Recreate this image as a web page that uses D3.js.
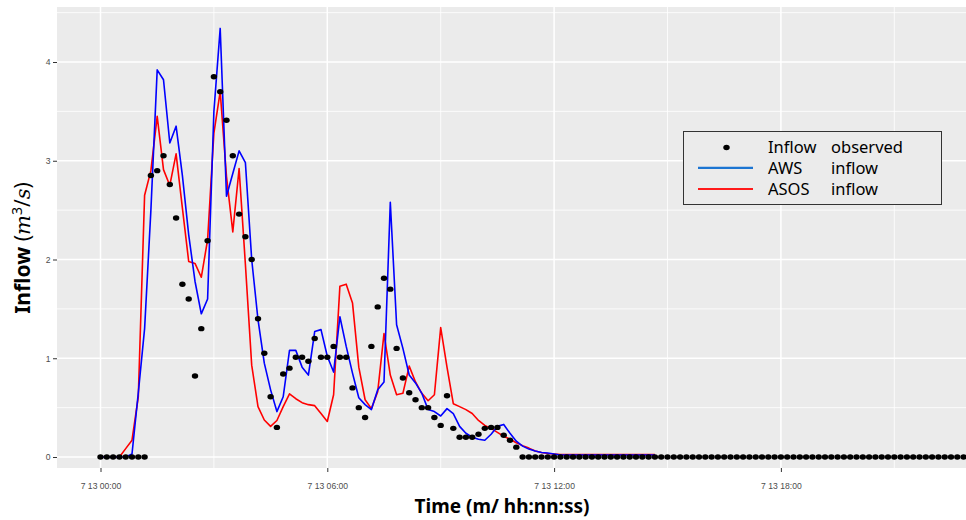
<!DOCTYPE html>
<html><head><meta charset="utf-8">
<script src="https://cdn.jsdelivr.net/npm/d3@7"></script>
<style>body{margin:0;background:#fff}svg{display:block}</style>
</head><body>
<svg id="chart" width="966" height="520"></svg>
<script>
// ---- data ----
const startTime = new Date(2000, 6, 13, 0, 0);
const stepMinutes = 10;
const xTickHours = [0, 6, 12, 18];
const xMinorHours = [3, 9, 15, 21];
const yTicks = [0, 1, 2, 3, 4];
const yMinorTicks = [0.5, 1.5, 2.5, 3.5, 4.5];

const observed = [
0,0,0,0,0,0,0,0,2.85,2.90,
3.05,2.76,2.42,1.75,1.60,0.82,1.30,2.19,3.85,3.70,
3.41,3.05,2.46,2.23,2.00,1.40,1.05,0.61,0.30,0.84,
0.90,1.01,1.01,0.97,1.20,1.01,1.01,1.12,1.01,1.01,
0.70,0.50,0.40,1.12,1.52,1.81,1.70,1.10,0.80,0.65,
0.58,0.50,0.50,0.40,0.32,0.62,0.29,0.20,0.20,0.20,
0.23,0.29,0.30,0.30,0.22,0.17,0.10,0,0,0,
0,0,0,0,0,0,0,0,0,0,
0,0,0,0,0,0,0,0,0,0,
0,0,0,0,0,0,0,0,0,0,
0,0,0,0,0,0,0,0,0,0,
0,0,0,0,0,0,0,0,0,0,
0,0,0,0,0,0,0,0,0,0,
0,0,0,0,0,0,0,0,0,0,
0,0,0,0
];

const awsInflow = [
0,0,0,0,0,0.03,0.65,1.30,2.50,3.92,
3.82,3.18,3.35,2.85,2.25,1.78,1.45,1.60,3.50,4.34,
2.64,2.87,3.10,2.98,2.00,1.39,0.95,0.68,0.46,0.61,
1.08,1.08,0.91,0.83,1.27,1.29,1.02,0.86,1.42,1.12,
0.85,0.60,0.53,0.48,0.68,0.76,2.58,1.34,1.10,0.83,
0.75,0.645,0.48,0.46,0.415,0.49,0.44,0.31,0.24,0.20,
0.18,0.17,0.23,0.31,0.33,0.24,0.16,0.11,0.08,0.06,
0.045,0.04,0.03,0.02,0.02,0.02,0.02,0.02,0.02,0.02,
0.02,0.02,0.02,0.02,0.02,0.02,0.02,0.02,0.02
];

const asosInflow = [
0,0,0,0,0.085,0.17,0.61,2.65,2.90,3.45,
2.91,2.75,3.07,2.52,1.98,1.96,1.82,2.20,3.28,3.70,
2.84,2.28,2.92,1.95,0.93,0.51,0.375,0.31,0.37,0.51,
0.64,0.59,0.55,0.53,0.52,0.44,0.36,0.63,1.73,1.75,
1.56,0.91,0.58,0.49,0.66,1.25,0.83,0.63,0.645,0.92,
0.76,0.645,0.57,0.63,1.31,0.91,0.54,0.51,0.48,0.44,
0.37,0.32,0.29,0.25,0.21,0.18,0.145,0.115,0.09,0.06,
0.045,0.035,0.03,0.025,0.025,0.025,0.025,0.025,0.025,0.025,
0.025,0.025,0.025,0.025,0.025,0.025,0.025,0.025,0.025
];

const legendItems = [
  {first: "Inflow", second: "observed", kind: "point"},
  {first: "AWS", second: "inflow", kind: "line", color: "#1C75D2"},
  {first: "ASOS", second: "inflow", kind: "line", color: "#FF1A1A"}
];

// ---- layout ----
const panel = {left: 57, top: 7, right: 966, bottom: 468};
const svg = d3.select("#chart");
const timeAt = i => d3.timeMinute.offset(startTime, i * stepMinutes);
const hourAt = h => d3.timeHour.offset(startTime, h);

const x = d3.scaleTime()
  .domain([startTime, d3.timeHour.offset(startTime, 24)])
  .range([100.5, 1007.7]);
const y = d3.scaleLinear().domain([0, 4]).range([457, 62]);

svg.append("defs").append("clipPath").attr("id", "clip")
  .append("rect").attr("x", panel.left).attr("y", panel.top)
  .attr("width", panel.right - panel.left).attr("height", panel.bottom - panel.top);

svg.append("rect").attr("x", panel.left).attr("y", panel.top)
  .attr("width", panel.right - panel.left).attr("height", panel.bottom - panel.top)
  .attr("fill", "#EBEBEB");

const grid = svg.append("g").attr("clip-path", "url(#clip)");
grid.selectAll(".ymin").data(yMinorTicks).join("line")
  .attr("x1", panel.left).attr("x2", panel.right)
  .attr("y1", d => y(d)).attr("y2", d => y(d))
  .attr("stroke", "#fff").attr("stroke-width", 0.8);
grid.selectAll(".xmin").data(xMinorHours).join("line")
  .attr("y1", panel.top).attr("y2", panel.bottom)
  .attr("x1", d => x(hourAt(d))).attr("x2", d => x(hourAt(d)))
  .attr("stroke", "#fff").attr("stroke-width", 0.8);
grid.selectAll(".ymaj").data(yTicks).join("line")
  .attr("x1", panel.left).attr("x2", panel.right)
  .attr("y1", d => y(d)).attr("y2", d => y(d))
  .attr("stroke", "#fff").attr("stroke-width", 1.5);
grid.selectAll(".xmaj").data(xTickHours).join("line")
  .attr("y1", panel.top).attr("y2", panel.bottom)
  .attr("x1", d => x(hourAt(d))).attr("x2", d => x(hourAt(d)))
  .attr("stroke", "#fff").attr("stroke-width", 1.5);

const marks = svg.append("g").attr("clip-path", "url(#clip)");
const line = d3.line().x((d, i) => x(timeAt(i))).y(d => y(d));
marks.append("path").datum(asosInflow).attr("d", line)
  .attr("fill", "none").attr("stroke", "#FF0000").attr("stroke-width", 1.6).attr("stroke-linejoin", "round");
marks.append("path").datum(awsInflow).attr("d", line)
  .attr("fill", "none").attr("stroke", "#0000FF").attr("stroke-width", 1.6).attr("stroke-linejoin", "round");
marks.selectAll("ellipse").data(observed).join("ellipse")
  .attr("cx", (d, i) => x(timeAt(i))).attr("cy", d => y(d))
  .attr("rx", 3.2).attr("ry", 2.7).attr("fill", "#000");

// ---- axes ----
const xAxis = d3.axisBottom(x)
  .tickValues(xTickHours.map(hourAt))
  .tickFormat(d3.timeFormat("%-m %d %H:%M"))
  .tickSize(4).tickPadding(11);
const gx = svg.append("g").attr("transform", `translate(0,${panel.bottom})`).call(xAxis);
gx.select(".domain").remove();
gx.selectAll("line").attr("stroke", "#333");
gx.selectAll("text").attr("fill", "#4D4D4D").attr("font-size", 8.6)
  .attr("font-family", "Liberation Sans, Arial, sans-serif");

const yAxis = d3.axisLeft(y).tickValues(yTicks).tickFormat(d3.format("d"))
  .tickSize(4).tickPadding(2.5);
const gy = svg.append("g").attr("transform", `translate(${panel.left},0)`).call(yAxis);
gy.select(".domain").remove();
gy.selectAll("line").attr("stroke", "#333");
gy.selectAll("text").attr("fill", "#4D4D4D").attr("font-size", 8.6)
  .attr("font-family", "Liberation Sans, Arial, sans-serif");

// ---- titles ----
svg.append("text").attr("x", 502).attr("y", 513).attr("text-anchor", "middle")
  .attr("font-family", "Noto Sans, sans-serif").attr("font-weight", "bold")
  .attr("font-size", 19).attr("fill", "#000").text("Time (m/ hh:nn:ss)");

const yt = svg.append("text").attr("transform", "translate(30,248) rotate(-90)")
  .attr("text-anchor", "middle").attr("font-family", "Noto Sans, sans-serif")
  .attr("font-size", 21).attr("fill", "#000");
yt.append("tspan").attr("font-weight", "bold").text("Inflow ");
yt.append("tspan").text("(");
yt.append("tspan").attr("font-style", "italic").attr("font-family", "DejaVu Serif, serif").text("m");
yt.append("tspan").attr("font-size", 14).attr("dy", -8).text("3");
yt.append("tspan").attr("dy", 8).text("/");
yt.append("tspan").attr("font-style", "italic").attr("font-family", "DejaVu Serif, serif").text("s");
yt.append("tspan").text(")");

// ---- legend ----
const lg = svg.append("g");
lg.append("rect").attr("x", 683.5).attr("y", 131.5).attr("width", 258).attr("height", 73)
  .attr("fill", "#EBEBEB").attr("stroke", "#333").attr("stroke-width", 1);
const rowY = [146.5, 167.8, 189];
legendItems.forEach((it, i) => {
  if (it.kind === "point") {
    lg.append("ellipse").attr("cx", 726.5).attr("cy", rowY[i] + 1).attr("rx", 3.2).attr("ry", 2.8).attr("fill", "#000");
  } else {
    lg.append("line").attr("x1", 698).attr("x2", 753).attr("y1", rowY[i]).attr("y2", rowY[i])
      .attr("stroke", it.color).attr("stroke-width", 2.2);
  }
  lg.append("text").attr("x", 768).attr("y", rowY[i] + 6).attr("font-family", "Noto Sans, sans-serif")
    .attr("font-size", 16.5).attr("fill", "#000").text(it.first);
  lg.append("text").attr("x", 831).attr("y", rowY[i] + 6).attr("font-family", "Noto Sans, sans-serif")
    .attr("font-size", 16.5).attr("fill", "#000").text(it.second);
});
</script>
</body></html>
